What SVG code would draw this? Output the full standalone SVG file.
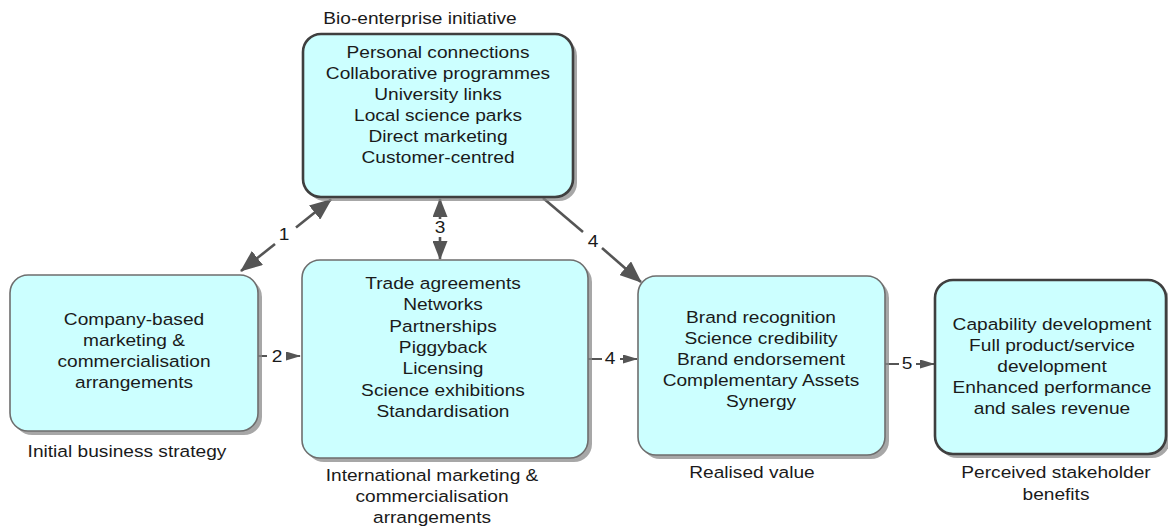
<svg xmlns="http://www.w3.org/2000/svg" width="1168" height="528" viewBox="0 0 1168 528">
<style>
text{font-family:"Liberation Sans",Arial,sans-serif;font-size:16.5px;fill:#1a1a1a;text-anchor:middle}
.box{fill:#ccffff;stroke:#6e6e6e;stroke-width:1.6}
.boxk{fill:#ccffff;stroke:#3f3f3f;stroke-width:2.6}
.sh{fill:#8a8a8a;opacity:0.75}
.ln{stroke:#555;stroke-width:2.6;fill:none}
.lns{stroke:#555;stroke-width:2;fill:none}
</style>
<defs>
<marker id="big" viewBox="0 0 22 18" refX="21" refY="9" markerWidth="22" markerHeight="18" markerUnits="userSpaceOnUse" orient="auto"><path d="M0,0 L22,9 L0,18 z" fill="#555"/></marker>
<marker id="mid" viewBox="0 0 19 15" refX="18" refY="7.5" markerWidth="19" markerHeight="15" markerUnits="userSpaceOnUse" orient="auto"><path d="M0,0 L19,7.5 L0,15 z" fill="#555"/></marker>
<marker id="sm" viewBox="0 0 15 9" refX="14" refY="4.5" markerWidth="15" markerHeight="9" markerUnits="userSpaceOnUse" orient="auto"><path d="M0,0 L15,4.5 L0,9 z" fill="#555"/></marker>
</defs>

<g id="connectors">
<line class="ln" x1="296" y1="227.5" x2="331" y2="199.5" marker-end="url(#big)"/>
<line class="ln" x1="275" y1="244" x2="241" y2="271" marker-end="url(#big)"/>
<text transform="translate(284,240) scale(1.16,1)" x="0" y="0">1</text>
<line class="ln" x1="440" y1="219" x2="440" y2="199" marker-end="url(#mid)"/>
<line class="ln" x1="440" y1="237" x2="440" y2="259" marker-end="url(#mid)"/>
<text transform="translate(440,233) scale(1.16,1)" x="0" y="0">3</text>
<line class="ln" x1="543" y1="198" x2="583" y2="232" />
<line class="ln" x1="602" y1="248" x2="641" y2="282" marker-end="url(#big)"/>
<text transform="translate(593,247) scale(1.16,1)" x="0" y="0">4</text>
<line class="lns" x1="258" y1="356" x2="267" y2="356"/>
<line class="lns" x1="286" y1="356" x2="300" y2="356" marker-end="url(#sm)"/>
<text transform="translate(277,362) scale(1.16,1)" x="0" y="0">2</text>
<line class="lns" x1="588" y1="359" x2="602" y2="359"/>
<line class="lns" x1="620" y1="359" x2="637" y2="359" marker-end="url(#sm)"/>
<text transform="translate(610,364) scale(1.16,1)" x="0" y="0">4</text>
<line class="lns" x1="885" y1="364" x2="899" y2="364"/>
<line class="lns" x1="916" y1="364" x2="934" y2="364" marker-end="url(#sm)"/>
<text transform="translate(907,369) scale(1.16,1)" x="0" y="0">5</text>
</g>

<g id="node-initial">
<rect class="sh" x="14" y="279" width="248" height="156" rx="18"/>
<rect class="box" x="10" y="275" width="248" height="156" rx="18"/>
<text transform="translate(134,0) scale(1.16,1)"><tspan x="0" y="325">Company-based</tspan><tspan x="0" y="346">marketing &amp;</tspan><tspan x="0" y="367">commercialisation</tspan><tspan x="0" y="388">arrangements</tspan></text>
<text transform="translate(127,0) scale(1.16,1)" x="0" y="457">Initial business strategy</text>
</g>

<g id="node-bio">
<rect class="sh" x="307" y="38" width="270" height="163" rx="18"/>
<rect class="boxk" x="303" y="34" width="270" height="163" rx="18"/>
<text transform="translate(438,0) scale(1.16,1)"><tspan x="0" y="58">Personal connections</tspan><tspan x="0" y="79">Collaborative programmes</tspan><tspan x="0" y="100">University links</tspan><tspan x="0" y="121">Local science parks</tspan><tspan x="0" y="142">Direct marketing</tspan><tspan x="0" y="163">Customer-centred</tspan></text>
<text transform="translate(420,0) scale(1.16,1)" x="0" y="24">Bio-enterprise initiative</text>
</g>

<g id="node-international">
<rect class="sh" x="306" y="264" width="286" height="198" rx="18"/>
<rect class="box" x="302" y="260" width="286" height="198" rx="18"/>
<text transform="translate(443,0) scale(1.16,1)"><tspan x="0" y="289">Trade agreements</tspan><tspan x="0" y="310">Networks</tspan><tspan x="0" y="332">Partnerships</tspan><tspan x="0" y="353">Piggyback</tspan><tspan x="0" y="374">Licensing</tspan><tspan x="0" y="396">Science exhibitions</tspan><tspan x="0" y="417">Standardisation</tspan></text>
<text transform="translate(432,0) scale(1.16,1)"><tspan x="0" y="481">International marketing &amp;</tspan><tspan x="0" y="502">commercialisation</tspan><tspan x="0" y="523">arrangements</tspan></text>
</g>

<g id="node-realised">
<rect class="sh" x="642" y="280" width="247" height="179" rx="18"/>
<rect class="box" x="638" y="276" width="247" height="179" rx="18"/>
<text transform="translate(761,0) scale(1.16,1)"><tspan x="0" y="323">Brand recognition</tspan><tspan x="0" y="344">Science credibility</tspan><tspan x="0" y="365">Brand endorsement</tspan><tspan x="0" y="386">Complementary Assets</tspan><tspan x="0" y="407">Synergy</tspan></text>
<text transform="translate(752,0) scale(1.16,1)" x="0" y="478">Realised value</text>
</g>

<g id="node-benefits">
<rect class="sh" x="939" y="284" width="231" height="174" rx="18"/>
<rect class="boxk" x="935" y="280" width="231" height="174" rx="18"/>
<text transform="translate(1052,0) scale(1.16,1)"><tspan x="0" y="330">Capability development</tspan><tspan x="0" y="351">Full product/service</tspan><tspan x="0" y="372">development</tspan><tspan x="0" y="393">Enhanced performance</tspan><tspan x="0" y="414">and sales revenue</tspan></text>
<text transform="translate(1056,0) scale(1.16,1)"><tspan x="0" y="478">Perceived stakeholder</tspan><tspan x="0" y="500">benefits</tspan></text>
</g>
</svg>
